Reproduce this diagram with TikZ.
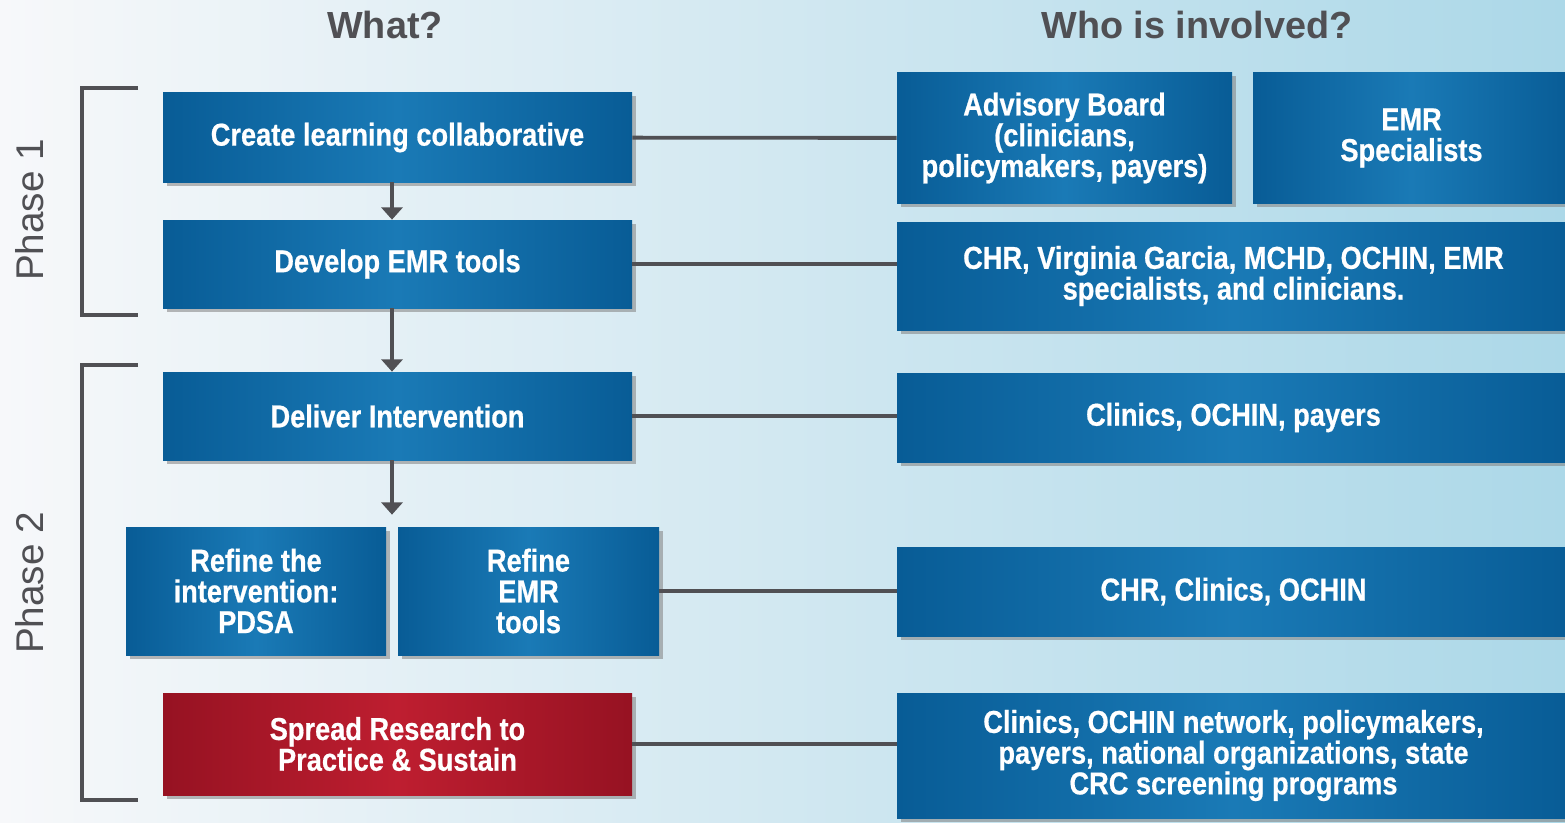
\documentclass[tikz,border=0pt]{standalone}
\usepackage{fontspec}
\setmainfont{Liberation Sans}
\newfontfamily\boxfont{Liberation Sans Bold}[FakeStretch=0.86,FakeBold=0.6]
\usetikzlibrary{calc,shadows,arrows.meta}
\definecolor{myBlue}{RGB}{26,122,182}
\definecolor{myBlueDark}{RGB}{8,92,150}
\definecolor{myRed}{RGB}{190,30,48}
\definecolor{myRedDark}{RGB}{150,18,34}
\definecolor{myGray}{RGB}{80,80,84}
\definecolor{bgLeft}{RGB}{247,248,250}
\definecolor{bgRight}{RGB}{172,216,232}

\tikzset{
	box/.style={draw=none,left color=myBlueDark,right color=myBlueDark,middle color=myBlue,
		text=white,font=\boxfont\fontsize{18}{17.5}\selectfont,align=center,
		inner sep=0pt,drop shadow={opacity=0.55,shadow xshift=0.07cm,shadow yshift=-0.07cm}},
	redbox/.style={box,left color=myRedDark,right color=myRedDark,middle color=myRed},
	link/.style={myGray,line width=2.2pt},
	flow/.style={myGray,line width=2.2pt,-{Triangle[length=7pt,width=12pt]}},
	bracket/.style={myGray,line width=2.2pt},
	head/.style={myGray,font=\bfseries\fontsize{21.5}{24}\selectfont},
	phase/.style={myGray,font=\fontsize{22}{24}\selectfont,rotate=90}
}

\begin{document}
\begin{tikzpicture}
	% background
	\shade[left color=bgLeft,right color=bgRight] (0,0) rectangle (31.3,16.44);
	\useasboundingbox (0,0) rectangle (31.3,16.44);

	% column titles
	\node[head] (what) at (7.7,15.94) {What?};
	\node[head] (who) at (23.94,15.94) {Who is involved?};

	% phase brackets
	\draw[bracket] (2.76,14.68) -- (1.64,14.68) -- (1.64,10.14) -- (2.76,10.14);
	\draw[bracket] (2.76,9.14) -- (1.64,9.14) -- (1.64,0.44) -- (2.76,0.44);
	\node[phase] (ph1) at (0.6,12.24) {Phase 1};
	\node[phase] (ph2) at (0.6,4.78) {Phase 2};

	% what
	\node[box,minimum width=9.38cm,minimum height=1.78cm] (create) at (7.95,13.69) {Create learning collaborative};
	\node[box,minimum width=9.38cm,minimum height=1.76cm] (develop) at (7.95,11.16) {Develop EMR tools};
	\node[box,minimum width=9.38cm,minimum height=1.76cm] (deliver) at (7.95,8.12) {Deliver Intervention};
	\node[box,minimum width=5.2cm,minimum height=2.56cm] (refinePDSA) at (5.12,4.62) {Refine the\\intervention:\\PDSA};
	\node[box,minimum width=5.22cm,minimum height=2.56cm] (refineEMR) at (10.57,4.62) {Refine\\EMR\\tools};
	\node[redbox,minimum width=9.38cm,minimum height=2.04cm] (spread) at (7.95,1.56) {Spread Research to\\Practice \& Sustain};
	\coordinate (split) at ($(refinePDSA.north east)!0.5!(refineEMR.north west)$);

	% who
	\node[box,minimum width=6.7cm,minimum height=2.6cm] (advisory) at (21.29,13.68) {Advisory Board\\(clinicians,\\policymakers, payers)};
	\node[box,minimum width=6.34cm,minimum height=2.6cm] (emrspec) at (28.23,13.68) {EMR\\Specialists};
	\node[box,minimum width=13.46cm,minimum height=2.16cm] (chr) at (24.67,10.92) {CHR, Virginia Garcia, MCHD, OCHIN, EMR\\specialists, and clinicians.};
	\node[box,minimum width=13.46cm,minimum height=1.78cm] (clinics) at (24.67,8.09) {Clinics, OCHIN, payers};
	\node[box,minimum width=13.46cm,minimum height=1.78cm] (chrclin) at (24.67,4.61) {CHR, Clinics, OCHIN};
	\node[box,minimum width=13.46cm,minimum height=2.5cm] (network) at (24.67,1.33) {Clinics, OCHIN network, policymakers,\\payers, national organizations, state\\CRC screening programs};

	% arrows down the left column
	\draw[flow] (create.south -| split) -- (develop.north -| split);
	\draw[flow] (develop.south -| split) -- (deliver.north -| split);
	\draw[flow] (deliver.south -| split) -- ([yshift=0.24cm]split);

	% links across
	\draw[link] (create) -- (advisory);
	\draw[link] (develop.east) -- (develop.east -| chr.west);
	\draw[link] (deliver.east) -- (deliver.east -| clinics.west);
	\draw[link] (refineEMR.east) -- (refineEMR.east -| chrclin.west);
	\draw[link] (spread.east) -- (spread.east -| network.west);
\end{tikzpicture}
\end{document}
